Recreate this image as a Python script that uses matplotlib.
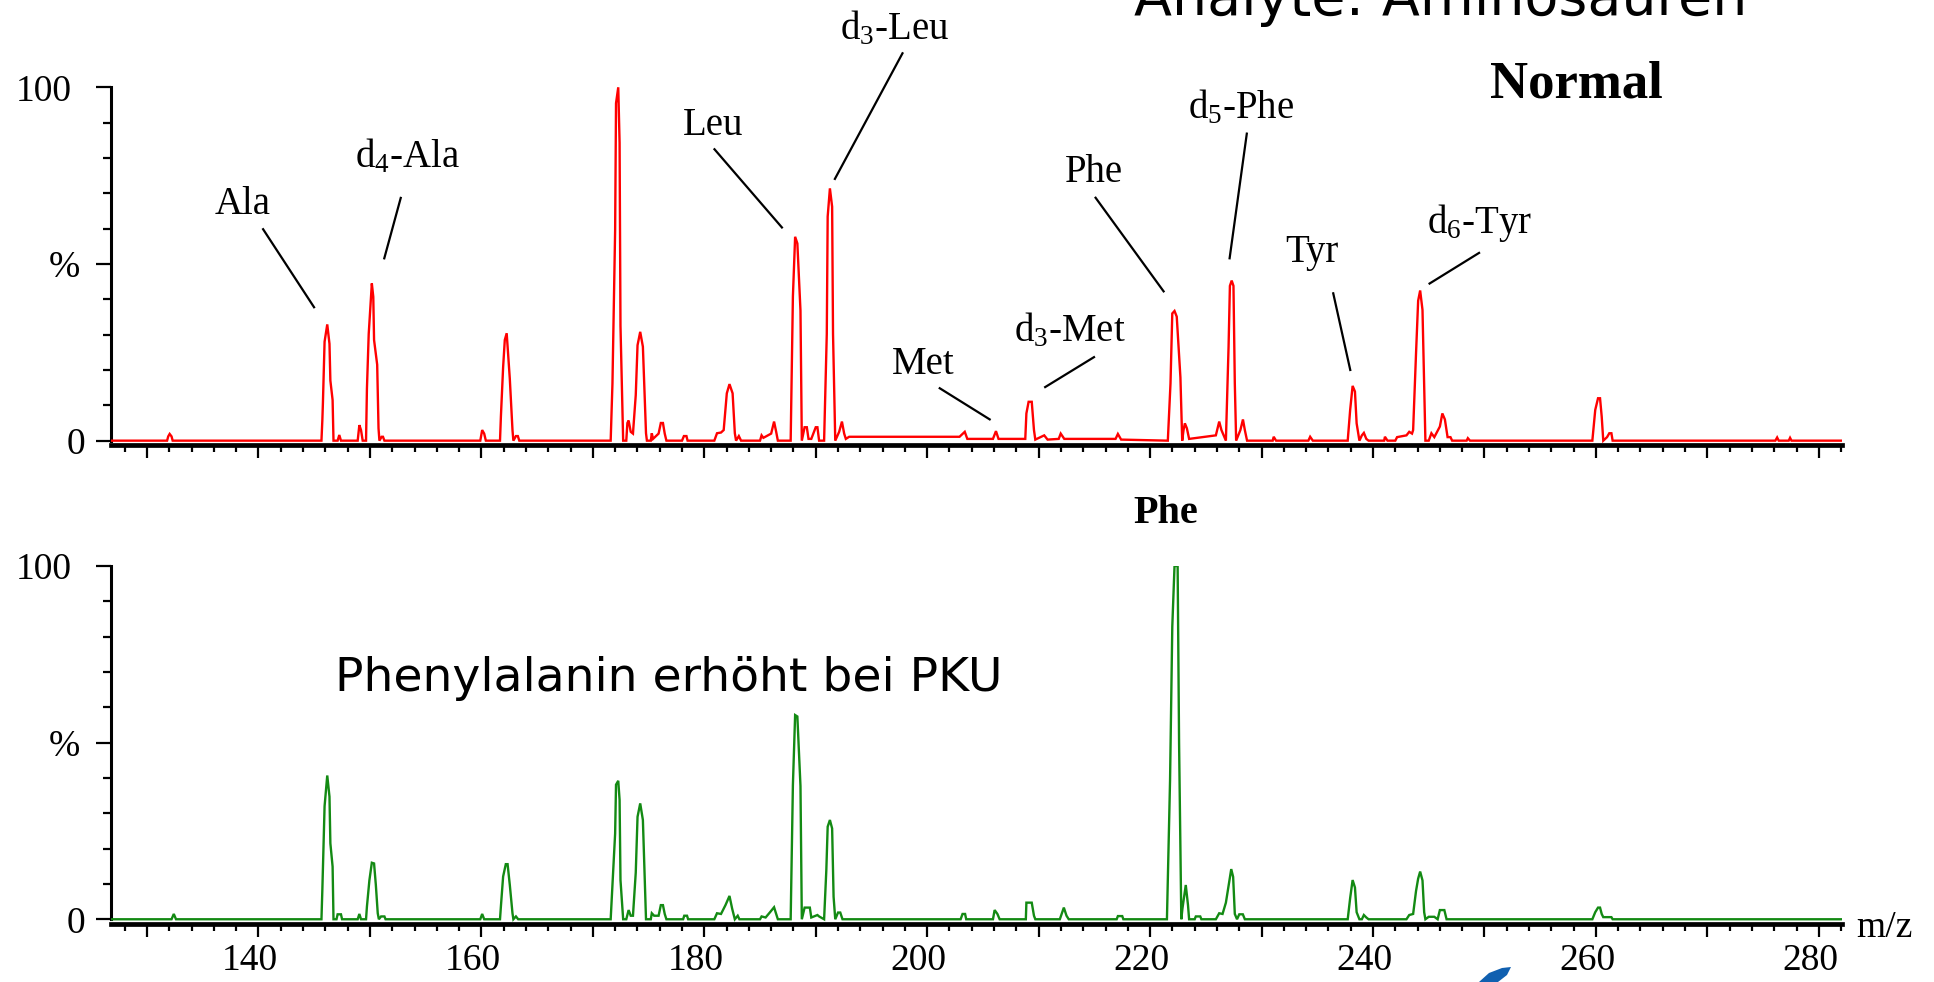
import matplotlib
matplotlib.use("Agg")
import matplotlib.pyplot as plt
from matplotlib.ticker import MultipleLocator, FixedLocator, FuncFormatter
from matplotlib.patches import Polygon
import matplotlib.transforms as mtransforms

# ---------------- data ----------------
# Normal newborn sample (red trace): vertices (m/z, relative intensity %)
normal_mz = [126.7, 131.8, 131.9, 132.03, 132.2, 132.3,
             145.65, 145.73, 145.78, 145.93, 146.17, 146.37, 146.45, 146.65, 146.73,
             147.1, 147.25, 147.4, 148.9, 149.05, 149.2, 149.35,
             149.65, 149.73, 149.89, 150.17, 150.3, 150.37, 150.65, 150.77, 150.85,
             151.05, 151.17, 151.3, 159.9, 160.07, 160.25, 160.4,
             161.67, 161.75, 161.95, 162.1, 162.27, 162.55, 162.79, 162.87,
             163.1, 163.27, 163.4,
             171.6, 171.76, 172.0, 172.08, 172.28, 172.40, 172.48, 172.72,
             173.0, 173.1, 173.21, 173.4, 173.6,
             173.85, 174.01, 174.25, 174.49, 174.77, 174.85,
             175.2, 175.29, 175.4, 175.9, 176.1, 176.29, 176.45, 176.6,
             178.0, 178.17, 178.4, 178.5,
             180.9, 181.14, 181.5, 181.74, 182.02, 182.26, 182.54, 182.74, 182.85, 183.1, 183.3,
             185.0, 185.14, 185.3, 186.0, 186.26, 186.45, 186.6,
             187.75, 187.95, 188.15, 188.35, 188.63, 188.75,
             189.0, 189.2, 189.35, 189.6, 190.0, 190.15, 190.3,
             190.75, 190.99, 191.07, 191.27, 191.47, 191.55, 191.75,
             192.1, 192.35, 192.55, 192.7,
             193.0, 202.9, 203.37, 203.6, 205.9, 206.17, 206.4, 208.7,
             208.8, 208.90, 209.10, 209.38, 209.58, 209.7, 210.5, 210.8, 211.8, 211.98, 212.3,
             216.9, 217.11, 217.4, 221.5,
             221.59, 221.83, 221.99, 222.19, 222.39, 222.72, 222.88,
             223.0, 223.12, 223.3, 223.5, 225.9, 226.2, 226.4, 226.8,
             227.04, 227.16, 227.32, 227.48, 227.60, 227.72,
             228.1, 228.33, 228.5, 228.7, 231.0, 231.09, 231.3, 234.2, 234.36, 234.6,
             237.73, 237.95, 238.17, 238.38, 238.53, 238.78,
             239.0, 239.18, 239.4, 239.6, 241.0, 241.07, 241.3, 242.0, 242.16, 243.0, 243.25, 243.5,
             243.6, 243.86, 244.05, 244.23, 244.44, 244.59, 244.70,
             245.0, 245.24, 245.5, 246.0, 246.22, 246.45, 246.69, 246.95, 247.1, 248.4, 248.51, 248.7,
             259.68, 259.94, 260.19, 260.37, 260.52, 260.66, 261.0, 261.2, 261.39, 261.5,
             276.1, 276.26, 276.4, 277.3, 277.42, 277.55, 282.1]
normal_int = [0, 0, 1.2, 1.9, 1.2, 0,
              0, 5.8, 10.6, 28.0, 32.9, 27.4, 17.0, 11.5, 0,
              0, 1.6, 0, 0, 4.4, 3.0, 0,
              0, 14.7, 30.2, 44.5, 40.7, 28.5, 21.5, 3.5, 0,
              1.1, 1.1, 0, 0, 3.0, 2.0, 0,
              0, 6.8, 20.8, 28.5, 30.4, 17.5, 3.0, 0,
              1.3, 1.3, 0,
              0, 16.2, 59.6, 95.5, 100.0, 84.3, 32.5, 0,
              0, 5.0, 5.7, 2.5, 2.0,
              12.9, 27.0, 30.8, 26.6, 2.1, 0,
              0, 2.1, 0.5, 2.0, 5.0, 5.0, 2.0, 0,
              0, 1.3, 1.3, 0,
              0, 2.1, 2.3, 3.0, 13.4, 16.0, 13.4, 2.1, 0, 1.3, 0,
              0, 1.5, 0.8, 2.0, 5.4, 2.5, 0,
              0, 40.8, 57.7, 55.8, 36.8, 0,
              3.8, 3.8, 0.5, 0.5, 3.8, 3.8, 0,
              0, 30.2, 63.4, 71.4, 66.2, 30.2, 0,
              2.5, 5.4, 2.0, 0.5,
              1.1, 1.1, 2.5, 0.5, 0.5, 2.7, 0.5, 0.5,
              0.5, 7.7, 11.0, 11.0, 3.0, 0.3, 1.5, 0.3, 0.5, 2.0, 0.5,
              0.5, 1.9, 0.3, 0,
              0, 16.2, 36.0, 36.7, 35.1, 17.9, 0,
              3.0, 4.9, 3.5, 0.5, 1.5, 5.4, 3.0, 0,
              26.6, 43.8, 45.3, 43.8, 16.2, 0,
              3.0, 6.0, 3.0, 0, 0, 1.1, 0, 0, 1.1, 0,
              0, 8.7, 15.5, 13.9, 4.9, 0,
              1.5, 2.2, 0.5, 0, 0, 1.1, 0, 0, 1.0, 1.5, 2.5, 2.0,
              3.0, 24.7, 39.6, 42.5, 37.0, 15.1, 0,
              0, 2.1, 1.0, 4.0, 7.7, 6.0, 1.0, 1.0, 0, 0, 0.7, 0,
              0, 8.7, 12.0, 12.0, 6.8, 0, 1.0, 2.1, 2.1, 0,
              0, 0.9, 0, 0, 0.8, 0, 0]

# PKU sample (green trace)
phe_mz = [126.7, 132.2, 132.4, 132.6,
          145.65, 145.73, 145.93, 146.17, 146.37, 146.45, 146.65, 146.73,
          147.0, 147.1, 147.4, 147.5, 148.9, 149.05, 149.2,
          149.65, 149.73, 149.95, 150.17, 150.37, 150.53, 150.7, 150.8,
          151.0, 151.3, 151.4, 159.9, 160.07, 160.25,
          161.67, 161.75, 161.95, 162.19, 162.35, 162.55, 162.79, 162.87, 163.1, 163.3,
          171.6, 171.76, 172.0, 172.08, 172.28, 172.40, 172.48, 172.72,
          173.0, 173.21, 173.4, 173.6,
          173.85, 174.01, 174.25, 174.49, 174.77,
          175.2, 175.29, 175.5, 175.9, 176.1, 176.29, 176.45, 176.6,
          178.1, 178.2, 178.45, 178.55,
          180.9, 181.14, 181.5, 181.9, 182.26, 182.5, 182.74, 183.0, 183.15,
          185.0, 185.14, 185.5, 185.9, 186.26, 186.45, 186.6,
          187.75, 187.95, 188.15, 188.35, 188.63, 188.75,
          189.0, 189.47, 189.6, 190.15, 190.3,
          190.75, 190.95, 191.07, 191.27, 191.47, 191.6, 191.75,
          192.0, 192.2, 192.4,
          203.0, 203.17, 203.4, 203.5, 205.9, 206.05, 206.3, 206.5,
          208.85, 208.90, 209.38, 209.58, 209.7, 211.9, 212.26, 212.5, 212.7,
          217.0, 217.11, 217.5, 217.6,
          221.51, 221.79, 221.99, 222.19, 222.47, 222.60, 222.80,
          222.9, 223.2, 223.4, 223.5, 224.0, 224.1, 224.5, 224.6,
          225.9, 226.2, 226.5, 226.8, 227.28, 227.45, 227.6, 227.8, 228.0, 228.32, 228.5,
          237.73, 237.95, 238.17, 238.38, 238.53, 238.78,
          239.0, 239.18, 239.4, 239.6,
          243.0, 243.25, 243.6, 243.86, 244.05, 244.23, 244.44, 244.59, 244.7,
          245.0, 245.5, 245.8, 246.0, 246.4, 246.6,
          259.68, 259.94, 260.19, 260.37, 260.52, 260.66, 261.2, 261.39, 261.5,
          282.1]
phe_int = [0, 0, 1.5, 0,
           0, 8.3, 32.0, 40.7, 34.7, 21.5, 14.9, 0,
           0, 1.4, 1.4, 0, 0, 1.5, 0,
           0, 3.6, 11.0, 16.0, 15.8, 9.7, 1.7, 0,
           0.8, 0.8, 0, 0, 1.5, 0,
           0, 3.6, 12.1, 15.6, 15.6, 9.7, 1.7, 0, 0.8, 0,
           0, 9.7, 24.3, 38.1, 39.2, 33.8, 11.1, 0,
           0, 2.6, 1.0, 1.0,
           13.2, 29.0, 32.8, 28.1, 0,
           0, 1.7, 1.0, 1.0, 4.0, 4.0, 1.5, 0,
           0, 1.0, 1.0, 0,
           0, 1.7, 1.5, 4.0, 6.6, 3.0, 0, 1.0, 0,
           0, 0.8, 0.5, 2.0, 3.4, 1.5, 0,
           0, 38.0, 57.8, 57.4, 37.7, 0,
           3.3, 3.3, 0.5, 1.2, 0.8,
           0, 14.0, 26.2, 28.1, 25.7, 6.4, 0,
           1.9, 1.9, 0,
           0, 1.5, 1.5, 0, 0, 2.6, 1.5, 0,
           0, 4.7, 4.7, 1.0, 0, 0, 3.3, 1.0, 0,
           0, 0.9, 0.9, 0,
           0, 39.4, 82.8, 100.0, 100.0, 49.8, 0,
           3.0, 9.7, 4.0, 0, 0, 0.8, 0.8, 0,
           0, 1.7, 1.5, 4.7, 14.2, 12.0, 1.5, 0, 1.4, 1.4, 0,
           0, 6.0, 11.1, 9.0, 2.0, 0,
           0, 1.2, 0.5, 0,
           0, 1.2, 1.5, 8.0, 11.5, 13.5, 11.0, 2.0, 0,
           0.7, 0.7, 0, 2.6, 2.6, 0,
           0, 2.0, 3.3, 3.3, 1.5, 0.6, 0.6, 0.6, 0,
           0]

# peak annotations (top panel): label, text position (m/z, %), line start, line end
ann_labels = ["Ala", r"d$_{4}$-Ala", "Leu", r"d$_{3}$-Leu", "Met", r"d$_{3}$-Met",
              "Phe", r"d$_{5}$-Phe", "Tyr", r"d$_{6}$-Tyr"]
ann_text_xy = [(138.61, 64.15), (153.32, 77.5), (180.78, 86.5), (197.11, 113.7),
               (199.62, 18.9), (212.81, 28.0), (214.97, 73.3), (228.16, 91.2),
               (234.53, 50.7), (249.56, 58.7)]
ann_line_from = [(140.36, 60.1), (152.79, 69.0), (180.85, 82.7), (197.83, 109.9),
                 (201.04, 15.0), (215.05, 23.8), (215.05, 69.0), (228.69, 87.2),
                 (236.41, 42.0), (249.6, 53.3)]
ann_line_to = [(145.04, 37.5), (151.26, 51.3), (187.03, 60.1), (191.67, 73.8),
               (205.69, 5.86), (210.5, 15.0), (221.27, 42.0), (227.12, 51.3),
               (237.98, 19.7), (244.99, 44.3)]

x_major = list(range(130, 281, 10))
x_labels = [140, 160, 180, 200, 220, 240, 260, 280]
y_major = [0, 50, 100]
y_labels = ["0", "%", "100"]

# ---------------- figure ----------------
plt.rcParams['mathtext.fontset'] = 'custom'
plt.rcParams['mathtext.rm'] = 'Liberation Serif'
plt.rcParams['mathtext.it'] = 'Liberation Serif'
plt.rcParams['mathtext.default'] = 'rm'

W, H = 1934, 982
fig = plt.figure(figsize=(W / 100, H / 100), dpi=100)
fig.patch.set_facecolor('white')

SERIF = 'Liberation Serif'
XLIM = (126.74, 282.08)
YLIM = (-1.2, 100)

ax1 = fig.add_axes([110.7 / W, 1 - 444.9 / H, (1842 - 110.7) / W, (444.9 - 87.3) / H])
ax2 = fig.add_axes([110.7 / W, 1 - 923.5 / H, (1842 - 110.7) / W, (923.5 - 566) / H])

# per-label horizontal nudges (pixels) of the y tick labels, as in the original layout
y_label_nudge = {"0": 5.0, "%": 0.0, "100": -8.0}


def style(ax, show_labels):
    ax.set_xlim(*XLIM)
    ax.set_ylim(*YLIM)
    for s in ['top', 'right']:
        ax.spines[s].set_visible(False)
    ax.spines['left'].set_linewidth(2.2)
    ax.spines['bottom'].set_linewidth(3.4)
    ax.spines['left'].set_bounds(0, 100)
    ax.yaxis.set_major_locator(FixedLocator(y_major))
    ax.yaxis.set_major_formatter(FuncFormatter(lambda v, p: y_labels[y_major.index(int(round(v)))]))
    ax.yaxis.set_minor_locator(MultipleLocator(10))
    ax.tick_params(axis='y', which='major', direction='out', length=11, width=1.6,
                   labelsize=27, pad=11)
    ax.tick_params(axis='y', which='minor', direction='out', length=5.5, width=1.6)
    ax.xaxis.set_major_locator(FixedLocator(x_major))
    ax.xaxis.set_minor_locator(MultipleLocator(2))
    if show_labels:
        ax.xaxis.set_major_formatter(FuncFormatter(
            lambda v, p: str(int(round(v))) if int(round(v)) in x_labels else ""))
    else:
        ax.xaxis.set_major_formatter(FuncFormatter(lambda v, p: ""))
    ax.tick_params(axis='x', which='major', direction='out', length=9.5, width=1.6,
                   labelsize=27, pad=5)
    ax.tick_params(axis='x', which='minor', direction='out', length=5, width=1.6)
    for lab in ax.get_xticklabels() + ax.get_yticklabels():
        lab.set_fontfamily(SERIF)
    offset = mtransforms.ScaledTranslation(-8.5 / 100, 0, fig.dpi_scale_trans)
    for lab in ax.get_xticklabels():
        lab.set_transform(lab.get_transform() + offset)
    for tick, name in zip(ax.yaxis.get_major_ticks(), y_labels):
        off = mtransforms.ScaledTranslation(y_label_nudge[name] / 100, 0, fig.dpi_scale_trans)
        tick.label1.set_transform(tick.label1.get_transform() + off)
    ax.set_facecolor('white')


ax1.plot(normal_mz, normal_int, color='#ff0000', lw=1.7, solid_joinstyle='miter', zorder=3)
ax2.plot(phe_mz, phe_int, color='#138a13', lw=1.7, solid_joinstyle='miter', zorder=3)
style(ax1, False)
style(ax2, True)

for lab, txy, lf, lt in zip(ann_labels, ann_text_xy, ann_line_from, ann_line_to):
    ax1.text(txy[0], txy[1], lab, ha='center', va='baseline', fontsize=28,
             fontfamily=SERIF, clip_on=False)
    ax1.plot([lf[0], lt[0]], [lf[1], lt[1]], color='black', lw=1.6, clip_on=False,
             solid_capstyle='butt')

ax1.text(258.22, 97.1, "Normal", ha='center', va='baseline', fontsize=38,
         fontweight='bold', fontfamily=SERIF, clip_on=False)
ax2.text(221.38, 112.2, "Phe", ha='center', va='baseline', fontsize=29,
         fontweight='bold', fontfamily=SERIF, clip_on=False)
ax2.text(146.86, 64.7, "Phenylalanin erhöht bei PKU", ha='left', va='baseline',
         fontsize=34, fontfamily='DejaVu Sans', clip_on=False)
ax2.text(283.35, -5.0, "m/z", ha='left', va='baseline', fontsize=27,
         fontfamily=SERIF, clip_on=False)

fig.text(1134 / W, 1 - 15 / H, "Analyte: Aminosäuren", ha='left', va='baseline',
         fontsize=40, fontfamily='DejaVu Sans')

# fragment of a logo at the bottom edge
logo = Polygon([(1479 / W, 0), (1489 / W, 1 - 973 / H), (1502 / W, 1 - 968 / H),
                (1511 / W, 1 - 967 / H), (1507 / W, 1 - 975 / H), (1498 / W, 0)],
               closed=True, transform=fig.transFigure, color='#1060b0', lw=0)
fig.patches.append(logo)

fig.savefig('out.png', dpi=100, facecolor='white')
